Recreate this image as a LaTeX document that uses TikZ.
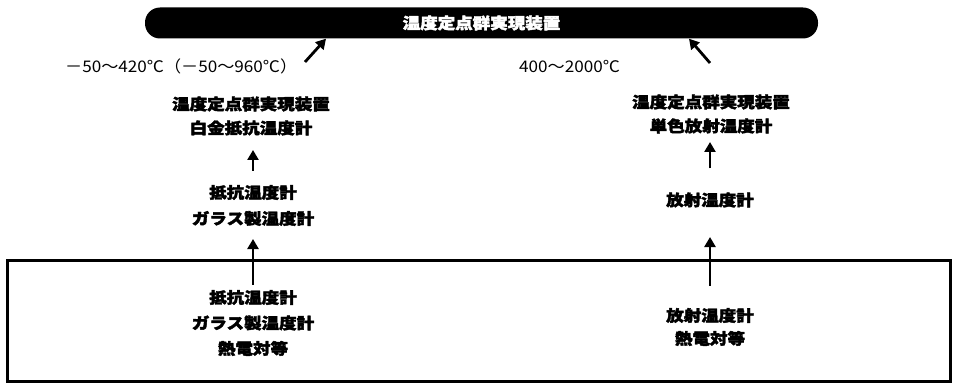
\documentclass[tikz,border=0pt]{standalone}
\usepackage{fontspec}
\usetikzlibrary{arrows.meta}
\newfontfamily\jp[FakeStretch=1.13,FakeBold=2.5]{Noto Sans CJK JP}
\newfontfamily\jpr[FakeStretch=1.07]{Noto Sans CJK JP}
\tikzset{
  jtext/.style={font=\jp\bfseries\fontsize{15.5}{26}\selectfont, align=center, inner sep=0pt},
  rangelbl/.style={font=\jpr\fontsize{16}{18}\selectfont, inner sep=0pt, anchor=west},
  arr/.style={line width=2.8pt, -{Triangle[length=10pt,width=11pt]}},
  barbox/.style={fill=black, rounded corners=15pt, minimum width=673pt, minimum height=31pt, inner sep=0pt,
     text=white, font=\jp\bfseries\fontsize{15.5}{17}\selectfont},
  framebox/.style={draw, line width=3pt, minimum width=943pt, minimum height=121pt, inner sep=0pt}
}
\begin{document}
\begin{tikzpicture}[x=1pt,y=-1pt]
\useasboundingbox (0,0) rectangle (954,385);
\node[barbox] (bar) at (481.5,23) {温度定点群実現装置};
\node[framebox] (frame) at (478.5,321) {};

\node[rangelbl] (lrange) at (65,66) {－50〜420℃（－50〜960℃）};
\node[rangelbl] (rrange) at (519,67) {400〜2000℃};

\node[jtext,font=\jp\bfseries\fontsize{15.5}{24}\selectfont] (ltop) at (251,116) {温度定点群実現装置\\白金抵抗温度計};
\node[jtext] (lmid) at (253,205.5) {抵抗温度計\\ガラス製温度計};
\node[jtext,font=\jp\bfseries\fontsize{15.5}{25.5}\selectfont] (lbot) at (253,323) {抵抗温度計\\ガラス製温度計\\熱電対等};

\node[jtext,font=\jp\bfseries\fontsize{15.5}{24}\selectfont] (rtop) at (711,114) {温度定点群実現装置\\単色放射温度計};
\node[jtext] (rmid) at (710,200) {放射温度計};
\node[jtext,font=\jp\bfseries\fontsize{15.5}{23}\selectfont] (rbot) at (710,327) {放射温度計\\熱電対等};

% diagonal arrows into the bar
\coordinate (lt) at (305,62);
\coordinate (lh) at (bar.south -| 326,0);
\coordinate (rt) at (710,63);
\coordinate (rh) at (bar.south -| 689,0);
\draw[arr] (lt) -- (lh);
\draw[arr] (rt) -- (rh);

% vertical arrows
\draw[arr] (lmid.north) ++(0,-14) coordinate (a) -- (a |- 0,150);
\draw[arr] (lbot.north) ++(0,-5) coordinate (b) -- (b |- 0,239);
\draw[arr] (rmid.north) ++(0,-24) coordinate (c) -- (c |- 0,142);
\draw[arr] (rbot.north) ++(0,-22) coordinate (d) -- (d |- 0,237);
\end{tikzpicture}
\end{document}
